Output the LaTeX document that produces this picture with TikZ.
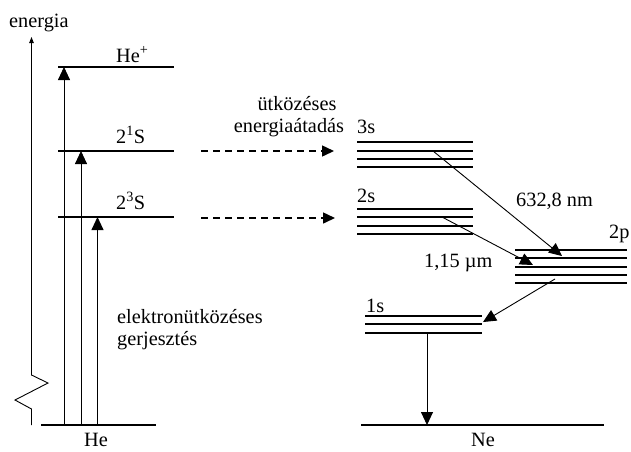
\documentclass[tikz,border=0pt]{standalone}
\usepackage{fontspec}
\setmainfont{Liberation Serif}
\newfontfamily\labelserif{Liberation Serif}
\usetikzlibrary{arrows.meta}
\begin{document}
\begin{tikzpicture}[x=1pt,y=-1pt,
  lev/.style={line width=1.8pt},
  trans/.style={line width=0.9pt,-{Triangle[length=13pt,width=12pt]}},
  transfer/.style={line width=1.5pt,dash pattern=on 7pt off 5pt,-{Triangle[length=12pt,width=11pt]}},
  axisline/.style={line width=0.9pt,-{Triangle[length=6pt,width=4.5pt]}},
  lbl/.style={inner sep=0pt,anchor=base west,font=\labelserif\fontsize{20.3}{24}\selectfont},
  clbl/.style={lbl,anchor=base}]
\useasboundingbox (0,0) rectangle (631,451);

% energy axis with a break
\coordinate (ax0) at (31.5,425);
\coordinate (ax1) at (31.5,37);
\draw[axisline] (ax0) -- (31.5,409) -- (15,400) -- (48,383) -- (31.5,375) -- (ax1);
\node[lbl] (energia) at (9,27.5) {energia};

% helium levels
\draw[lev] (41,425) coordinate (heg) -- (156,425);
\draw[lev] (58,67) -- (174,67);
\draw[lev] (58,151) -- (174,151);
\draw[lev] (58,217) -- (174,217);
\node[lbl] (heplus) at (116,62) {He\textsuperscript{+}};
\node[lbl] (hes1) at (116,143) {2\textsuperscript{1}S};
\node[lbl] (hes3) at (116,209) {2\textsuperscript{3}S};
\node[lbl] (he) at (84,446) {He};

% electron impact excitation
\coordinate (a1) at (64,425);  \coordinate (b1) at (64,67);
\coordinate (a2) at (81,425);  \coordinate (b2) at (81,151);
\coordinate (a3) at (97.5,425);\coordinate (b3) at (97.5,217);
\draw[trans] (a1) -- (b1);
\draw[trans] (a2) -- (b2);
\draw[trans] (a3) -- (b3);
\node[lbl] (ex1) at (117,323) {elektronütközéses};
\node[lbl] (ex2) at (117,345) {gerjesztés};

% collisional energy transfer
\coordinate (t1a) at (201,151); \coordinate (t1b) at (334,151);
\coordinate (t2a) at (201,218); \coordinate (t2b) at (335,218);
\draw[transfer] (t1a) -- (t1b);
\draw[transfer] (t2a) -- (t2b);
\node[clbl] (tr1) at (297,110) {ütközéses};
\node[clbl] (tr2) at (289,132) {energiaátadás};

% neon levels
\foreach \y in {142,151,159,167} \draw[lev] (357,\y) -- (473,\y);
\foreach \y in {209,217,226,234} \draw[lev] (357,\y) -- (473,\y);
\foreach \y in {250,258,267,275,283} \draw[lev] (515,\y) -- (627,\y);
\foreach \y in {316,324,333} \draw[lev] (365,\y) -- (482,\y);
\draw[lev] (361,425) -- (604,425);
\node[lbl] (n3s) at (357,133) {3s};
\node[lbl] (n2s) at (357,202) {2s};
\node[lbl] (n2p) at (609,238) {2p};
\node[lbl] (n1s) at (366,312) {1s};
\node[lbl] (ne) at (471,446) {Ne};

% neon transitions
\coordinate (s3) at (433,151);  \coordinate (p1) at (562,256);
\coordinate (s2) at (442,217);  \coordinate (p2) at (533,265);
\coordinate (p3) at (555,279);  \coordinate (s1) at (483,322);
\coordinate (s1b) at (427,333); \coordinate (ng) at (427,425);
\draw[trans] (s3) -- (p1);
\draw[trans] (s2) -- (p2);
\draw[trans] (p3) -- (s1);
\draw[trans] (s1b) -- (ng);
\node[lbl] (l1) at (516,206) {632,8 nm};
\node[lbl] (l2) at (424,267) {1,15 µm};
\end{tikzpicture}
\end{document}
